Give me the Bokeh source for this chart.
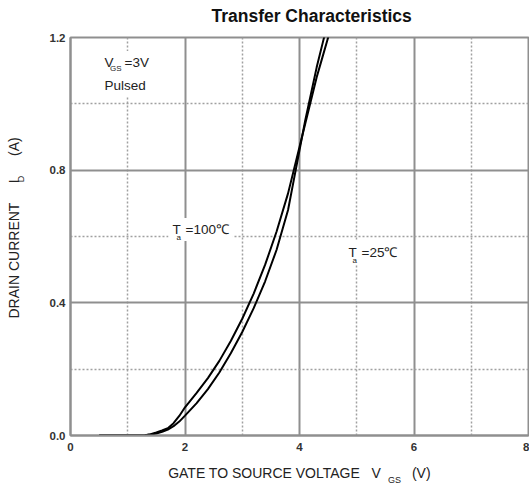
import math
from bokeh.plotting import figure
from bokeh.models import FixedTicker, Label, Range1d, Title, LinearAxis
from bokeh.embed import file_html
from bokeh.resources import INLINE

# ---- data ----
vgs_100 = [0.5, 1.0, 1.3, 1.4, 1.5, 1.6, 1.7, 1.8, 1.9, 2.0, 2.2, 2.4, 2.6, 2.8,
           3.0, 3.2, 3.4, 3.6, 3.8, 3.9, 4.0, 4.1, 4.2, 4.3, 4.4, 4.5, 4.6]
id_100 = [0.0, 0.0, 0.001, 0.004, 0.009, 0.015, 0.022, 0.037, 0.059, 0.085, 0.128,
          0.173, 0.225, 0.285, 0.352, 0.428, 0.515, 0.615, 0.73, 0.80, 0.87, 0.94,
          1.01, 1.08, 1.14, 1.20, 1.26]

vgs_25 = [0.5, 1.0, 1.3, 1.4, 1.5, 1.6, 1.7, 1.8, 1.9, 2.0, 2.2, 2.4, 2.6, 2.8,
          3.0, 3.2, 3.4, 3.6, 3.8, 3.9, 4.0, 4.1, 4.2, 4.3, 4.4, 4.5]
id_25 = [0.0, 0.0, 0.001, 0.003, 0.006, 0.011, 0.018, 0.028, 0.042, 0.06, 0.097,
         0.14, 0.19, 0.248, 0.312, 0.384, 0.465, 0.56, 0.68, 0.77, 0.86, 0.95,
         1.03, 1.11, 1.18, 1.25]

x_ticks = [0, 2, 4, 6, 8]
x_tick_labels = ["0", "2", "4", "6", "8"]
x_minor = [1, 3, 5, 7]
y_ticks = [0.0, 0.4, 0.8, 1.2]
y_tick_labels = ["0.0", "0.4", "0.8", "1.2"]
y_minor = [0.2, 0.6, 1.0]

FONT = "Liberation Sans"
TXT = "#222222"
GRID = "#8f8f8f"
NB = "\u00a0"

p = figure(width=529, height=487, output_backend="svg", toolbar_location=None,
           title=None,
           x_range=Range1d(0, 8), y_range=Range1d(0, 1.2),
           min_border_left=70, min_border_right=1, min_border_top=37,
           min_border_bottom=52)
p.background_fill_color = "white"
p.border_fill_color = "white"
p.outline_line_color = GRID
p.outline_line_width = 2

xa = p.xaxis[0]
ya = p.yaxis[0]

xa.ticker = FixedTicker(ticks=x_ticks, minor_ticks=x_minor)
ya.ticker = FixedTicker(ticks=y_ticks, minor_ticks=y_minor)
xa.major_label_overrides = {t: l for t, l in zip(x_ticks, x_tick_labels)}
ya.major_label_overrides = {t: l for t, l in zip(y_ticks, y_tick_labels)}

for ax in (xa, ya):
    ax.axis_line_color = GRID
    ax.axis_line_width = 2
    ax.major_tick_line_color = None
    ax.minor_tick_line_color = None
    ax.major_tick_out = 0
    ax.minor_tick_out = 0
    ax.major_tick_in = 0
    ax.minor_tick_in = 0
    ax.major_label_text_font = FONT
    ax.major_label_text_font_size = "11.5px"
    ax.major_label_text_color = "#333333"
    ax.major_label_text_font_style = "bold"
xa.major_label_standoff = 7
ya.major_label_standoff = 5

# x axis label (centered on the frame, as in the reference)
xa.axis_label = ("GATE TO SOURCE VOLTAGE" + NB * 3 + "V" + NB * 8 + "(V)")
xa.axis_label_text_font = FONT
xa.axis_label_text_font_size = "14px"
xa.axis_label_text_font_style = "normal"
xa.axis_label_text_color = TXT
xa.axis_label_standoff = 11

# y axis: subscript D as the axis label, main text as an outer title
ya.axis_label = NB * 46 + "D"
ya.axis_label_text_font = FONT
ya.axis_label_text_font_size = "9px"
ya.axis_label_text_font_style = "normal"
ya.axis_label_text_color = TXT
ya.axis_label_standoff = 21


def label_only_axis(text, size, standoff, bold=False):
    ax = LinearAxis(axis_label=text, ticker=FixedTicker(ticks=[]))
    ax.axis_line_color = None
    ax.major_tick_line_color = None
    ax.minor_tick_line_color = None
    ax.major_tick_out = 0
    ax.minor_tick_out = 0
    ax.major_tick_in = 0
    ax.minor_tick_in = 0
    ax.major_label_standoff = 0
    ax.major_label_text_font_size = "0px"
    ax.axis_label_text_font = FONT
    ax.axis_label_text_font_size = size
    ax.axis_label_text_font_style = "bold" if bold else "normal"
    ax.axis_label_text_color = "#111111" if bold else TXT
    ax.axis_label_standoff = standoff
    return ax


# title (as the label of an empty top axis, shifted right of centre)
p.add_layout(label_only_axis(NB * 5 + "Transfer Characteristics", "17.5px", 12, bold=True), "above")
# subscript GS, on an empty axis below
p.add_layout(label_only_axis(NB * 76 + "GS", "9px", -9), "below")
# main y label
p.add_layout(Title(text="DRAIN CURRENT" + NB * 5 + "I" + NB * 6 + "(A)",
                   align="left", offset=117, text_font=FONT,
                   text_font_size="14px", text_font_style="normal",
                   text_color=TXT, standoff=-18), "left")

for g in (p.xgrid, p.ygrid):
    g.grid_line_color = GRID
    g.grid_line_width = 2
    g.minor_grid_line_color = "#a0a0a0"
    g.minor_grid_line_width = 1.5
    g.minor_grid_line_dash = "2 2"

p.line(vgs_100, id_100, line_color="black", line_width=2)
p.line(vgs_25, id_25, line_color="black", line_width=2)

# pixel->data helpers for annotation placement inside the frame
def dx(px):
    return (px - 70) / 57.25

def dy(py):
    return (435 - py) / 331.7

def lab(text, px, py, size, bg=True, pad=4):
    l = Label(x=dx(px), y=dy(py), text=text, text_font=FONT,
              text_font_size=size, text_color=TXT, text_align="left",
              text_baseline="middle")
    if bg:
        l.background_fill_color = "white"
        l.padding = pad
    p.add_layout(l)

# main annotation texts
lab("V", 100, 62, "13.5px")
lab("=3V", 120, 62, "13.5px")
lab("Pulsed", 100, 85, "13.5px")
lab("T", 168, 229, "13.5px")
lab("=100\u2103", 181, 229, "13.5px")
lab("T", 344, 252, "13.5px")
lab("=25\u2103", 357, 252, "13.5px")
# subscripts on top
lab("GS", 109.5, 68, "8px", bg=False)
lab("a", 176, 237, "8px", bg=False)
lab("a", 352, 260, "8px", bg=False)

open("out.html", "w").write(file_html(p, INLINE))
